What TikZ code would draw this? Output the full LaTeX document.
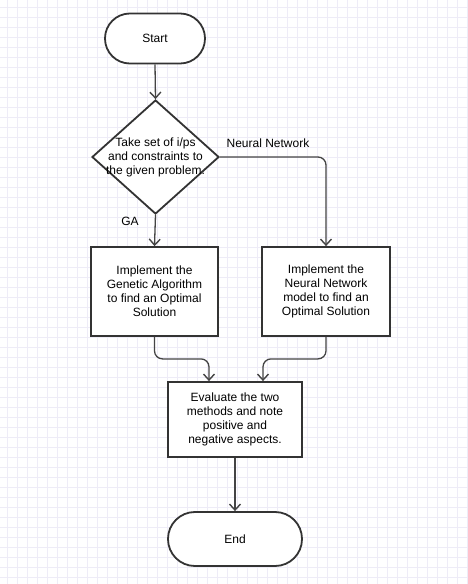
\documentclass[tikz,border=0pt]{standalone}
\usepackage{fontspec}
\setmainfont{Liberation Sans}
\usetikzlibrary{shapes.geometric,arrows.meta,calc}
\definecolor{gridc}{HTML}{EEECF7}
\definecolor{bord}{HTML}{333333}
\definecolor{conn}{HTML}{444444}
\tikzset{
  term/.style={draw=bord, line width=1.8pt, fill=white, rounded corners=24.9pt, minimum width=100pt, minimum height=50pt, inner sep=0pt, font=\fontsize{12}{14}\selectfont},
  procbox/.style={draw=bord, line width=1.8pt, fill=white, inner sep=0pt, align=center, font=\fontsize{12}{14}\selectfont},
  decshape/.style={diamond, draw=bord, line width=1.8pt, fill=white, inner sep=0pt, minimum width=127pt, minimum height=114pt},
  txt/.style={align=center, inner sep=0pt, font=\fontsize{12}{14}\selectfont},
  arr/.style={draw=conn, line width=1.3pt, -{Straight Barb[length=6pt,width=11pt,line width=1.4pt]}},
}
\begin{document}
\begin{tikzpicture}[x=1pt,y=-1pt]
\useasboundingbox (0,0) rectangle (468,584);
\fill[white] (0,0) rectangle (468,584);
\foreach \i in {0,...,46} { \draw[gridc, line width=0.8pt] (7+10*\i,0) -- (7+10*\i,584); }
\foreach \j in {0,...,58} { \draw[gridc, line width=0.8pt] (0,7+10*\j) -- (468,7+10*\j); }

\node[term] (start) at (155,38.5) {Start};
\node[decshape] (dec) at (155.5,157) {};
\node[txt] (dectxt) at (155.5,157.5) {Take set of i/ps\\and constraints to\\the given problem.};
\node[procbox, minimum width=127pt, minimum height=89pt] (ga) at (154.5,291.5) {Implement the\\Genetic Algorithm\\to find an Optimal\\Solution};
\node[procbox, minimum width=128pt, minimum height=89pt] (nn) at (326,291.5) {Implement the\\Neural Network\\model to find an\\Optimal Solution};
\node[procbox, minimum width=134pt, minimum height=75pt] (eval) at (235,419.5) {Evaluate the two\\methods and note\\positive and\\negative aspects.};
\node[term, minimum width=134pt, minimum height=54pt, rounded corners=26.9pt] (end) at (235,539) {End};

\node[txt] (galbl) at (130,221) {GA};
\node[txt] (nnlbl) at (268,143) {Neural Network};

\draw[arr] (start.south) -- (dec.north);
\draw[arr] (dec.south) -- (ga.north);
\draw[arr, rounded corners=8pt] (dec.east) -| (nn.north);
\draw[arr, rounded corners=8pt] (ga.south) -- ++(0,22) -| ([xshift=-26pt]eval.north);
\draw[arr, rounded corners=8pt] (nn.south) -- ++(0,22) -| ([xshift=28pt]eval.north);
\draw[arr] (eval.south) -- (end.north);
\end{tikzpicture}
\end{document}
